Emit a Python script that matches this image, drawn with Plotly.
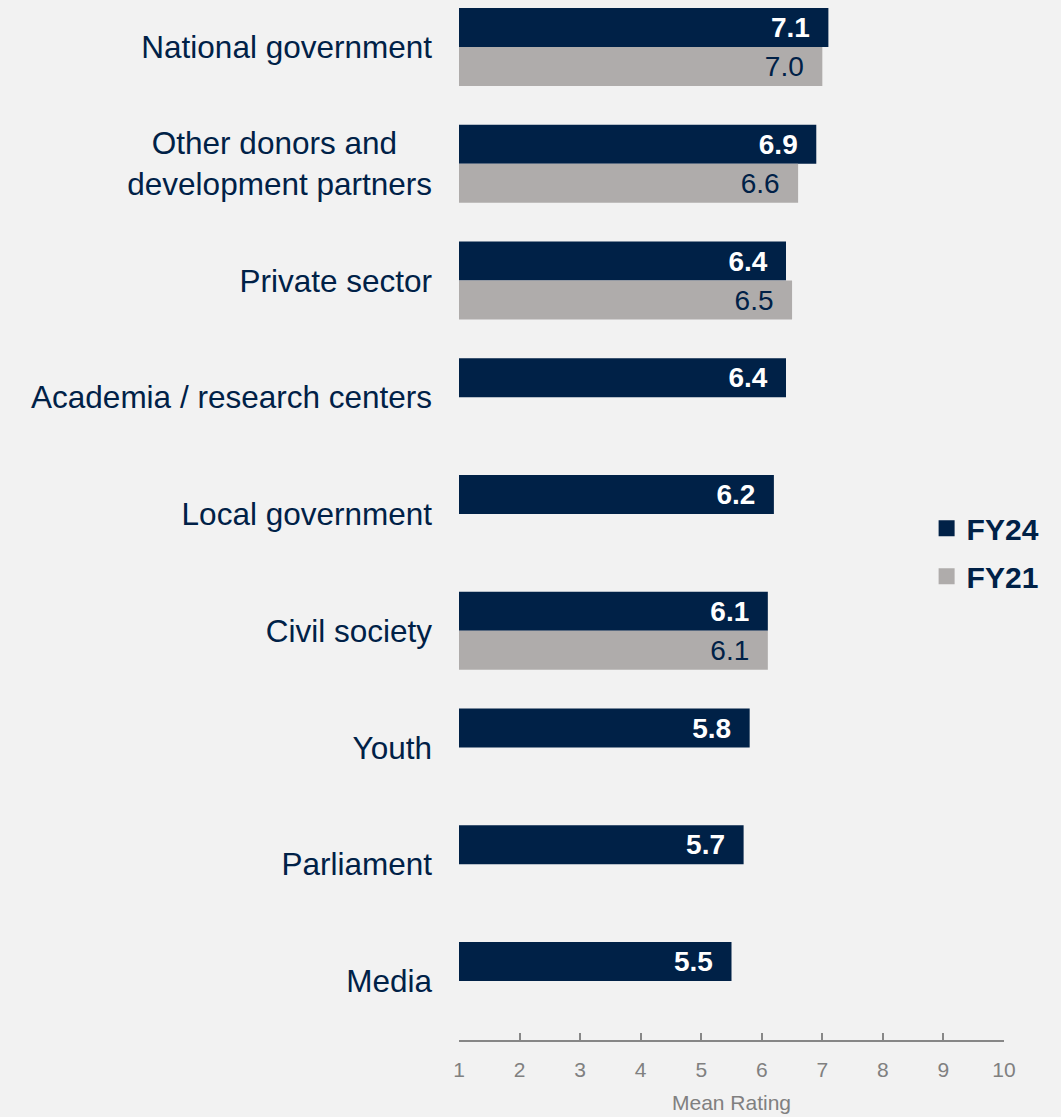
import plotly.graph_objects as go

categories = [
    "National government",
    "Other donors and\u00a0\u00a0\u00a0\u00a0<br>development partners",
    "Private sector",
    "Academia / research centers",
    "Local government",
    "Civil society",
    "Youth",
    "Parliament",
    "Media",
]
fy24 = [7.1, 6.9, 6.4, 6.4, 6.2, 6.1, 5.8, 5.7, 5.5]
fy21 = [7.0, 6.6, 6.5, None, None, 6.1, None, None, None]
x_ticks = [1, 2, 3, 4, 5, 6, 7, 8, 9, 10]

NAVY = "#002147"
GRAY = "#AFACAB"
BG = "#F2F2F2"
FONT = "Liberation Sans, Arial, sans-serif"

fig = go.Figure()
fig.add_trace(go.Bar(
    y=categories, x=fy24, orientation="h", name="FY24",
    marker=dict(color=NAVY, line=dict(width=0)),
    texttemplate="<b>%{x:.1f}</b>\u00a0\u00a0", textposition="inside",
    insidetextanchor="end", constraintext="none",
    textfont=dict(family=FONT, size=28, color="white"),
    showlegend=False, hoverinfo="x+y",
))
fig.add_trace(go.Bar(
    y=categories, x=fy21, orientation="h", name="FY21",
    marker=dict(color=GRAY, line=dict(width=0)),
    texttemplate="%{x:.1f}\u00a0\u00a0", textposition="inside",
    insidetextanchor="end", constraintext="none",
    textfont=dict(family=FONT, size=28, color=NAVY),
    showlegend=False, hoverinfo="x+y",
))
# legend entries with square markers
for name, col in [("FY24", NAVY), ("FY21", GRAY)]:
    fig.add_trace(go.Scatter(
        x=[None], y=[None], mode="markers", name="<b>%s</b>" % name,
        marker=dict(symbol="square", size=17, color=col),
        legendgroup=name, showlegend=True,
    ))

fig.update_layout(
    width=1061, height=1117,
    paper_bgcolor=BG, plot_bgcolor=BG,
    margin=dict(l=459, r=57, t=0, b=77, pad=0),
    barmode="group", bargap=0.332, bargroupgap=0,
    font=dict(family=FONT, color=NAVY),
    legend=dict(
        x=0.858, xanchor="left", y=0.517, yanchor="top",
        bgcolor="rgba(0,0,0,0)", font=dict(family=FONT, size=30, color=NAVY),
        traceorder="grouped", tracegroupgap=6, itemwidth=30,
    ),
    xaxis=dict(
        range=[1, 10], tickvals=x_ticks, ticks="inside", ticklen=7,
        tickcolor="#878787", tickwidth=1.5,
        showline=True, linecolor="#878787", linewidth=1.5,
        showgrid=False, zeroline=False,
        tickfont=dict(family=FONT, size=21, color="#808080"),
        ticklabelstandoff=10,
        title=dict(text="Mean Rating", font=dict(family=FONT, size=21, color="#808080"), standoff=15),
        fixedrange=True,
    ),
    yaxis=dict(
        type="category", categoryorder="array", categoryarray=categories,
        range=[8.505, -0.403], showgrid=False, showline=False, zeroline=False,
        ticks="", tickfont=dict(family=FONT, size=31.5, color=NAVY),
        ticklabelstandoff=26, fixedrange=True,
    ),
)

fig.write_html(
    "out.html",
    config={"displayModeBar": False},
    post_script="document.body.style.margin='0';document.body.style.background='#F2F2F2';",
)
